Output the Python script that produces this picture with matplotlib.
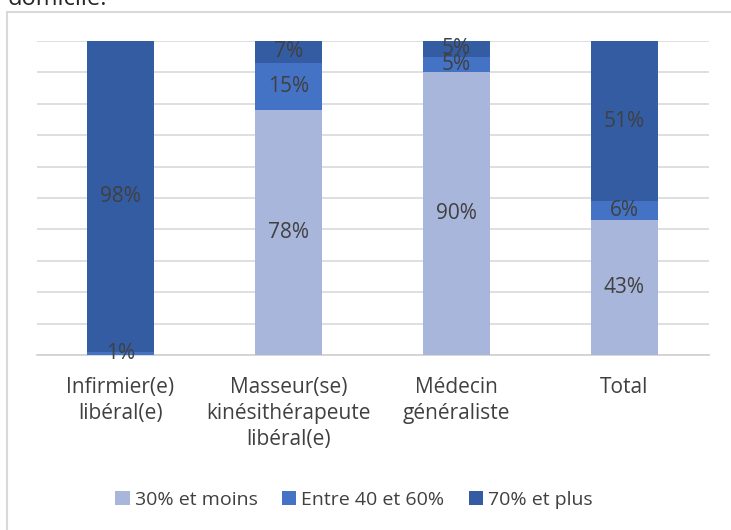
import matplotlib
matplotlib.use("Agg")
import matplotlib.pyplot as plt
from matplotlib.patches import Rectangle
import numpy as np

plt.rcParams["font.family"] = ["Open Sans", "DejaVu Sans"]

categories = ["Infirmier(e)\nlibéral(e)", "Masseur(se)\nkinésithérapeute\nlibéral(e)",
              "Médecin\ngénéraliste", "Total"]
series_names = ["30% et moins", "Entre 40 et 60%", "70% et plus"]
low = [0, 78, 90, 43]
mid = [1, 15, 5, 6]
high = [98, 7, 5, 51]
colors = ["#A9B6DB", "#4472C4", "#335CA3"]
text_col = "#404040"

W, H = 731, 530
fig = plt.figure(figsize=(W / 100, H / 100), dpi=100)
ax = fig.add_axes([36.5 / W, 1 - 355 / H, 672 / W, 314 / H])

vals = np.array([low, mid, high], dtype=float)
totals = vals.sum(axis=0)
shares = vals / totals
x = np.arange(len(categories))
bottom = np.zeros(len(categories))
for i, name in enumerate(series_names):
    ax.bar(x, shares[i], 0.4, bottom=bottom, color=colors[i], label=name, zorder=3)
    for j in range(len(categories)):
        if vals[i, j] > 0:
            ax.text(x[j], bottom[j] + shares[i, j] / 2, f"{int(vals[i, j])}%",
                    ha="center", va="center", fontsize=15, color=text_col, zorder=4)
    bottom += shares[i]

ax.set_xlim(-0.5, len(categories) - 0.5)
ax.set_ylim(0, 1)
ax.set_yticks(np.linspace(0, 1, 11))
ax.yaxis.grid(True, color="#D9D9D9", linewidth=1.2, zorder=0)
ax.tick_params(axis="y", length=0, labelleft=False)
ax.set_xticks(x)
ax.set_xticklabels(categories, fontsize=15, color=text_col, linespacing=1.3)
ax.tick_params(axis="x", length=0, pad=16)
for s in ["top", "right", "left"]:
    ax.spines[s].set_visible(False)
ax.spines["bottom"].set_color("#D0D0D0")
ax.spines["bottom"].set_linewidth(1.2)
ax.spines["bottom"].set_zorder(2)

fig.legend(loc="center", bbox_to_anchor=(354 / W, 1 - 500 / H), ncol=3, frameon=False,
           fontsize=14, labelcolor=text_col, handlelength=0.75, handleheight=0.75,
           handletextpad=0.25, columnspacing=1.25)

# chart frame and the caption line above it
fig.add_artist(Rectangle((7 / W, -0.1), 1.1, 1 - 12 / H + 0.1, transform=fig.transFigure,
                         fill=False, edgecolor="#D9D9D9", linewidth=1.5))
fig.text(8 / W, 1 - 5 / H, "domicile.", fontsize=17, color="#262626", va="baseline")

fig.savefig("out.png", dpi=100)
